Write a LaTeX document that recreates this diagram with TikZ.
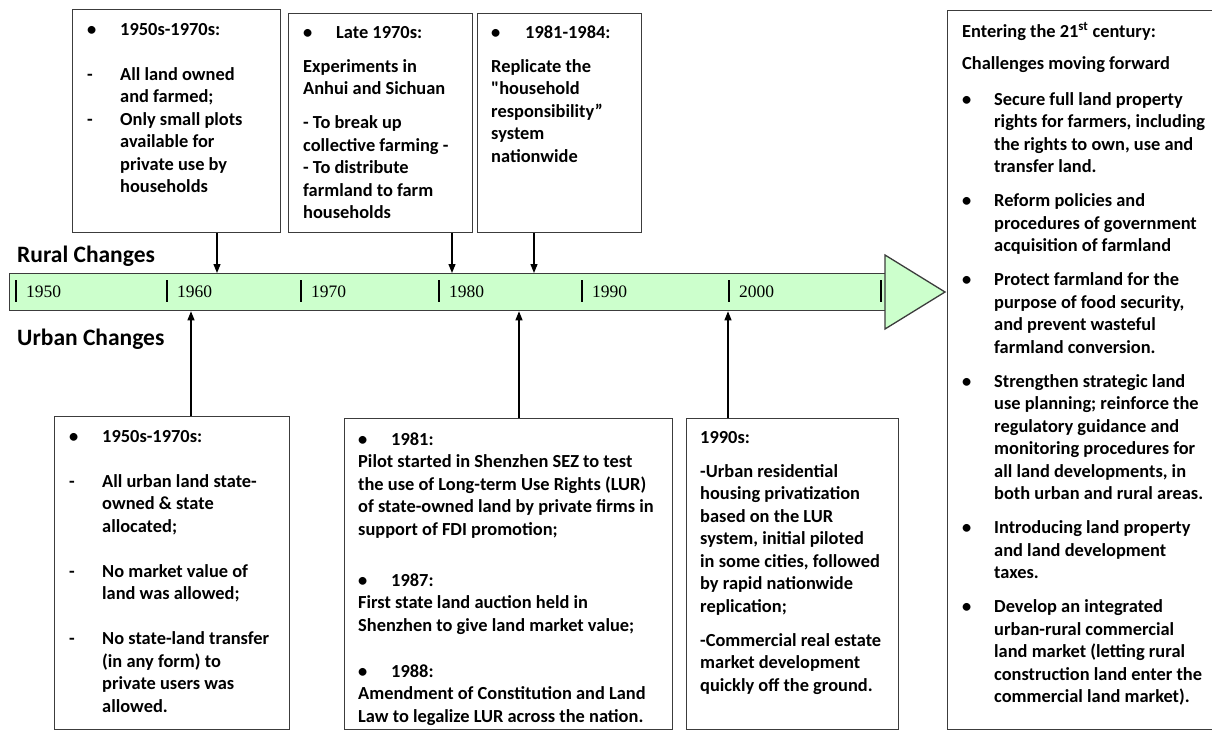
\documentclass[tikz,border=0pt]{standalone}
\usepackage{fontspec}
\setmainfont{Carlito}[Ligatures=TeXOff]
\newfontfamily\yearfont{Liberation Serif}
\usetikzlibrary{arrows.meta, positioning}

\definecolor{barfill}{RGB}{204,255,204}
\definecolor{edgec}{RGB}{60,60,60}

\newcommand{\boxfont}{\fontsize{18.4}{22.5}\selectfont\bfseries}
\newcommand{\bul}[1][33pt]{\makebox[#1][l]{\textbullet}}
\newcommand{\dsh}{\makebox[33pt][l]{-}}
\newcommand{\ind}[1][33pt]{\hspace*{#1}}

\begin{document}
\begin{tikzpicture}[x=1pt, y=-1pt,
  infobox/.style={draw=edgec, line width=1.3pt, rectangle, anchor=north west, inner sep=0pt},
  boxtext/.style={inner sep=0pt, anchor=base west, align=left, font=\boxfont},
  sidetitle/.style={inner sep=0pt, anchor=base west, font=\fontsize{23.5}{28}\selectfont\bfseries},
  yearlbl/.style={inner sep=0pt, anchor=base west, font=\yearfont\fontsize{17.5}{20}\selectfont},
  tlarrow/.style={line width=1.2pt, -{Triangle[length=9pt,width=7pt]}},
  barshape/.style={draw=edgec, fill=barfill, line width=1.3pt}]
\useasboundingbox (0,0) rectangle (1212,731);

% timeline bar
\node[barshape, rectangle, anchor=north west, inner sep=0pt,
      minimum width=876pt, minimum height=37pt] (bar) at (9,273) {};
\draw[barshape] (885,255) -- (945,292) -- (885,329) -- cycle;
\foreach \tx/\yr in {16/1950, 167/1960, 301/1970, 439/1980, 582/1990, 729/2000} {
  \draw[line width=1.2pt] (\tx,280) -- (\tx,302);
  \node[yearlbl] (yr\yr) at (\tx+10,297) {\yr};
}
\draw[line width=1.2pt] (881,280) -- (881,302);

\node[sidetitle] (rural) at (17,262) {Rural Changes};
\node[sidetitle] (urban) at (17,345) {Urban Changes};

% rural boxes (text placed by the baseline of its last line)
\node[infobox, minimum width=208pt, minimum height=223pt] (rural1) at (72,9) {};
\node[boxtext] (rural1t) at (87,192.5) {\bul 1950s-1970s:\\[22.5pt]
  \dsh All land owned\\
  \ind and farmed;\\
  \dsh Only small plots\\
  \ind available for\\
  \ind private use by\\
  \ind households};

\node[infobox, minimum width=184pt, minimum height=219pt] (rural2) at (288,13) {};
\node[boxtext] (rural2t) at (303,218.5) {\bul Late 1970s:\\[11.5pt]
  Experiments in\\
  Anhui and Sichuan\\[11.5pt]
  - To break up\\
  collective farming -\\
  - To distribute\\
  farmland to farm\\
  households};

\node[infobox, minimum width=164pt, minimum height=219pt] (rural3) at (477,13) {};
\node[boxtext] (rural3t) at (491,162) {\bul[34pt]1981-1984:\\[11.5pt]
  Replicate the\\
  "household\\
  responsibility”\\
  system\\
  nationwide};

% urban boxes
\node[infobox, minimum width=235pt, minimum height=313pt] (urban1) at (54,416) {};
\node[boxtext] (urban1t) at (69,712) {\bul 1950s-1970s:\\[22.5pt]
  \dsh All urban land state-\\
  \ind owned \& state\\
  \ind allocated;\\[22.5pt]
  \dsh No market value of\\
  \ind land was allowed;\\[22.5pt]
  \dsh No state-land transfer\\
  \ind (in any form) to\\
  \ind private users was\\
  \ind allowed.};

\node[infobox, minimum width=328pt, minimum height=311pt] (urban2) at (344,418) {};
\node[boxtext] (urban2t) at (358,722) {\bul 1981:\\
  Pilot started in Shenzhen SEZ to test\\
  the use of Long-term Use Rights (LUR)\\
  of state-owned land by private firms in\\
  support of FDI promotion;\\[28.5pt]
  \bul 1987:\\
  First state land auction held in\\
  Shenzhen to give land market value;\\[23.5pt]
  \bul 1988:\\
  Amendment of Constitution and Land\\
  Law to legalize LUR across the nation.};

\node[infobox, minimum width=212pt, minimum height=311pt] (urban3) at (686,418) {};
\node[boxtext] (urban3t) at (700,691) {1990s:\\[11.5pt]
  -Urban residential\\
  housing privatization\\
  based on the LUR\\
  system, initial piloted\\
  in some cities, followed\\
  by rapid nationwide\\
  replication;\\[11.5pt]
  -Commercial real estate\\
  market development\\
  quickly off the ground.};

% 21st century box
\node[infobox, minimum width=266pt, minimum height=719pt] (future) at (947,10) {};
\node[boxtext] (futuret) at (962,702.5) {Entering the 21\textsuperscript{st} century:\\[9.5pt]
  Challenges moving forward\\[13.5pt]
  \bul[32pt]Secure full land property\\
  \ind[32pt]rights for farmers, including\\
  \ind[32pt]the rights to own, use and\\
  \ind[32pt]transfer land.\\[11.5pt]
  \bul[32pt]Reform policies and\\
  \ind[32pt]procedures of government\\
  \ind[32pt]acquisition of farmland\\[11.5pt]
  \bul[32pt]Protect farmland for the\\
  \ind[32pt]purpose of food security,\\
  \ind[32pt]and prevent wasteful\\
  \ind[32pt]farmland conversion.\\[11.5pt]
  \bul[32pt]Strengthen strategic land\\
  \ind[32pt]use planning; reinforce the\\
  \ind[32pt]regulatory guidance and\\
  \ind[32pt]monitoring procedures for\\
  \ind[32pt]all land developments, in\\
  \ind[32pt]both urban and rural areas.\\[11.5pt]
  \bul[32pt]Introducing land property\\
  \ind[32pt]and land development\\
  \ind[32pt]taxes.\\[11.5pt]
  \bul[32pt]Develop an integrated\\
  \ind[32pt]urban-rural commercial\\
  \ind[32pt]land market (letting rural\\
  \ind[32pt]construction land enter the\\
  \ind[32pt]commercial land market).};

% connectors
\coordinate (r1) at (217,0);
\coordinate (r2) at (452,0);
\coordinate (r3) at (534,0);
\coordinate (u1) at (191,0);
\coordinate (u2) at (519,0);
\coordinate (u3) at (728,0);
\draw[tlarrow] (rural1.south -| r1) -- (bar.north -| r1);
\draw[tlarrow] (rural2.south -| r2) -- (bar.north -| r2);
\draw[tlarrow] (rural3.south -| r3) -- (bar.north -| r3);
\draw[tlarrow] (urban1.north -| u1) -- (bar.south -| u1);
\draw[tlarrow] (urban2.north -| u2) -- (bar.south -| u2);
\draw[tlarrow] (urban3.north -| u3) -- (bar.south -| u3);
\end{tikzpicture}
\end{document}
